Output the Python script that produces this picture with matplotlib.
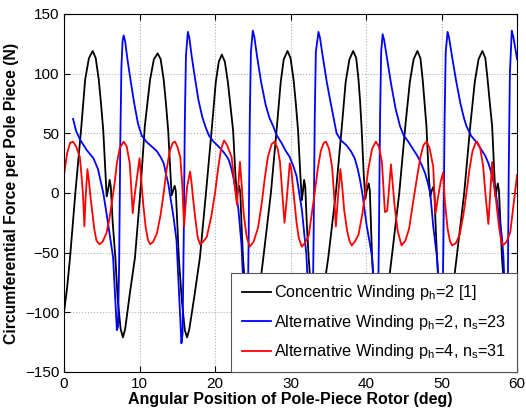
import matplotlib as mpl
import matplotlib.pyplot as plt

mpl.use('Agg')

plt.rcParams['font.family'] = ['Liberation Sans', 'DejaVu Sans']
plt.rcParams['mathtext.fontset'] = 'custom'
plt.rcParams['mathtext.rm'] = 'Liberation Sans'
plt.rcParams['mathtext.it'] = 'Liberation Sans'

# Concentric winding p_h=2 [1]  (angle in deg, force in N)
conc_x = [0.0, 0.4, 0.8, 1.5, 2.3, 2.8, 3.3, 3.8, 4.2, 4.6, 4.9, 5.2, 5.5, 5.65, 5.85, 6.05, 6.2, 6.45, 6.8,
          7.1, 7.5, 7.8, 8.1, 8.7, 9.4, 10.1, 10.7, 11.4, 11.9, 12.4, 12.8, 13.2, 13.5, 13.8, 14.1, 14.25,
          14.45, 14.65, 14.8, 15.0, 15.2, 15.6, 16.0, 16.3, 16.6, 17.3, 18.0, 18.8, 19.6, 20.1, 20.5, 20.9,
          21.3, 21.7, 22.1, 22.4, 22.7, 22.9, 23.05, 23.2, 23.35, 23.5, 23.7, 24.1, 24.5, 24.8, 25.1, 25.8,
          26.4, 27.4, 28.2, 28.7, 29.1, 29.6, 30.0, 30.4, 30.7, 31.0, 31.3, 31.5, 31.65, 31.8, 31.95, 32.15,
          32.4, 32.8, 33.1, 33.4, 33.7, 34.3, 35.0, 36.0, 36.8, 37.3, 37.8, 38.3, 38.7, 39.0, 39.2, 39.4,
          39.7, 39.9, 40.1, 40.35, 40.5, 40.65, 40.8, 41.2, 41.6, 41.9, 42.2, 42.8, 43.4, 44.4, 45.2, 45.8,
          46.3, 46.8, 47.2, 47.5, 47.75, 48.0, 48.3, 48.5, 48.7, 48.9, 49.05, 49.2, 49.4, 49.8, 50.2, 50.5,
          50.8, 51.4, 52.0, 53.0, 53.8, 54.4, 54.9, 55.4, 55.8, 56.1, 56.4, 56.7, 57.0, 57.15, 57.3, 57.45,
          57.6, 57.8, 58.0, 58.4, 58.7, 59.0, 59.3, 60.0]
conc_y = [-100, -80, -54, 0, 56, 95, 113, 119, 113, 95, 75, 52, 15, -3, 3, 11, 5, -25, -54,
          -88, -114, -121, -114, -85, -54, 0, 56, 95, 112, 117, 112, 95, 75, 52, 15, -2,
          2, 6, 2, -25, -54, -90, -115, -121, -114, -85, -54, 0, 56, 93, 110, 116,
          110, 93, 70, 52, 15, -2, 3, 6, 0, -25, -54, -90, -115, -121, -114, -85,
          -54, 0, 56, 93, 112, 119, 113, 95, 75, 52, 15, -6, 2, 11, 5, -25,
          -54, -90, -114, -121, -114, -85, -54, 0, 56, 93, 112, 119, 113, 95, 78, 56,
          15, -5, 2, 8, 2, -25, -54, -90, -115, -121, -114, -85, -54, 0, 56, 93,
          112, 119, 113, 95, 75, 56, 15, -3, 2, 5, 0, -25, -54, -90, -115, -121,
          -114, -85, -54, 0, 56, 93, 112, 119, 113, 95, 75, 56, 15, -3, 3, 8,
          2, -25, -54, -90, -114, -121, -115, -100]

# Alternative winding p_h=2, n_s=23
alt2_x = [1.2, 1.6, 2.1, 3.0, 3.9, 4.5, 4.85, 5.2, 5.7, 6.1, 6.5, 6.8, 7.0, 7.15, 7.3, 7.45, 7.6, 7.75,
          7.9, 8.1, 8.4, 8.8, 9.3, 9.8, 10.3, 10.9, 11.6, 12.3, 12.8, 13.2, 13.5, 13.8, 14.2, 14.5, 14.9,
          15.2, 15.55, 15.7, 15.85, 16.0, 16.15, 16.4, 16.6, 16.9, 17.3, 17.8, 18.3, 18.7, 19.2, 19.8, 20.3,
          20.9, 21.4, 21.8, 22.1, 22.4, 22.8, 23.1, 23.5, 23.8, 24.1, 24.3, 24.45, 24.6, 24.75, 25.0, 25.2,
          25.6, 26.1, 26.7, 27.2, 27.7, 28.2, 28.8, 29.3, 29.9, 30.4, 30.8, 31.15, 31.5, 32.1, 32.4, 32.7,
          32.9, 33.05, 33.2, 33.35, 33.7, 33.9, 34.3, 34.8, 35.3, 35.7, 36.1, 36.7, 37.4, 38.0, 38.5, 38.9,
          39.2, 39.5, 40.1, 40.5, 40.8, 41.1, 41.35, 41.55, 41.7, 41.85, 42.0, 42.2, 42.4, 42.8, 43.3, 43.9,
          44.5, 45.0, 45.6, 46.2, 46.9, 47.4, 47.8, 48.2, 48.5, 48.9, 49.4, 49.7, 49.95, 50.1, 50.25, 50.4,
          50.55, 50.8, 51.0, 51.4, 51.9, 52.5, 53.0, 53.3, 53.9, 54.7, 55.3, 55.8, 56.2, 56.6, 57.0, 57.3,
          58.0, 58.2, 58.45, 58.6, 58.75, 58.9, 59.05, 59.3, 59.5, 59.8, 60.0]
alt2_y = [62, 52, 45, 36, 29, 20, 10, 0, -20, -37, -54, -90, -115, -112, -60, 40, 105, 127,
          132, 127, 112, 95, 75, 58, 48, 43, 39, 35, 30, 25, 16, 8, -8, -20, -40,
          -80, -126, -118, -40, 60, 115, 135, 130, 115, 98, 78, 64, 56, 48, 43, 40,
          36, 32, 28, 22, 14, 0, -14, -43, -85, -122, -115, -40, 60, 118, 136, 131,
          113, 93, 74, 63, 56, 48, 42, 36, 30, 22, 14, 0, -14, -52, -90, -122,
          -115, -40, 60, 118, 135, 130, 113, 93, 76, 63, 50, 44, 40, 35, 29, 20,
          11, 0, -28, -42, -54, -90, -120, -112, -40, 60, 118, 133, 128, 112, 92, 71,
          56, 48, 43, 37, 30, 23, 17, 8, 0, -28, -54, -90, -122, -112, -40, 60,
          118, 135, 130, 114, 95, 75, 62, 56, 48, 42, 36, 31, 25, 17, 6, -5,
          -37, -54, -95, -120, -100, 20, 100, 136, 131, 120, 112]

# Alternative winding p_h=4, n_s=31
alt4_x = [0.0, 0.4, 0.8, 1.2, 1.6, 2.1, 2.35, 2.5, 2.7, 2.85, 2.95, 3.1, 3.3, 3.5, 3.7, 4.0, 4.3, 4.7,
          5.1, 5.6, 6.0, 6.3, 6.7, 7.0, 7.4, 7.9, 8.3, 8.7, 8.9, 9.1, 9.3, 9.6, 10.0, 10.25, 10.5, 10.8,
          11.1, 11.4, 11.8, 12.3, 12.8, 13.2, 13.6, 14.0, 14.4, 14.7, 15.0, 15.4, 15.65, 15.9, 16.1, 16.3,
          16.7, 16.9, 17.1, 17.4, 17.7, 18.0, 18.4, 18.9, 19.5, 20.0, 20.4, 20.8, 21.2, 21.6, 22.2, 22.5,
          22.9, 23.1, 23.3, 23.55, 23.8, 24.2, 24.6, 25.1, 25.7, 26.2, 26.6, 27.0, 27.5, 27.9, 28.3, 28.6,
          28.9, 29.2, 29.5, 29.9, 30.1, 30.4, 30.8, 31.1, 31.5, 31.9, 32.4, 32.8, 33.2, 33.6, 34.0, 34.4,
          34.7, 35.1, 35.5, 35.75, 36.0, 36.3, 36.6, 36.85, 37.1, 37.5, 37.8, 38.1, 38.5, 39.0, 39.5, 39.9,
          40.3, 40.8, 41.3, 41.7, 42.1, 42.3, 42.5, 42.8, 43.0, 43.3, 43.5, 43.8, 44.2, 44.7, 45.2, 45.7,
          46.3, 46.8, 47.2, 47.6, 48.0, 48.4, 48.9, 49.05, 49.2, 49.5, 49.9, 50.2, 50.45, 50.8, 51.1, 51.4,
          51.9, 52.4, 52.9, 53.3, 53.7, 54.1, 54.5, 54.7, 55.1, 55.5, 55.8, 56.2, 56.45, 56.7, 56.95, 57.2,
          57.6, 57.9, 58.1, 58.6, 59.1, 59.5, 60.0]
alt4_y = [15, 33, 42, 43, 39, 30, 12, 0, -28, -5, 5, 20, 10, -3, -14, -30, -40, -43,
          -41, -34, -22, -9, 8, 25, 38, 43, 39, 25, 5, -17, -5, 10, 29, 10, -10, -28,
          -39, -43, -41, -34, -18, 0, 20, 35, 42, 43, 39, 30, 8, -28, -10, 5,
          18, 8, -5, -22, -37, -43, -41, -37, -20, 0, 20, 37, 44, 40, 30, 12,
          -10, 8, 26, 5, -18, -37, -45, -41, -29, -8, 13, 30, 41, 43, 37, 26,
          0, -25, -5, 25, 20, 0, -25, -38, -45, -42, -36, -18, 0, 20, 35, 42,
          43, 37, 22, 0, -28, -2, 20, 5, -14, -32, -40, -44, -41, -35, -18, 0,
          20, 37, 43, 39, 26, 5, -16, -15, 0, 24, 10, -12, -32, -44, -40, -30,
          -5, 15, 30, 40, 43, 38, 22, 0, -17, -5, 10, 17, -8, -30, -40, -44,
          -42, -35, -18, 0, 20, 35, 42, 43, 38, 23, 0, -26, 0, 26, 5, -5,
          -28, -40, -44, -41, -33, -12, 15]

fig = plt.figure(figsize=(5.26, 4.11), dpi=100)
ax = fig.add_axes([0.1217, 0.095, 0.8613, 0.871])

ax.plot(conc_x, conc_y, color='k', lw=1.3, label='Concentric Winding p$_\\mathrm{h}$=2 [1]')
ax.plot(alt2_x, alt2_y, color='#0000ff', lw=1.3,
        label='Alternative Winding p$_\\mathrm{h}$=2, n$_\\mathrm{s}$=23')
ax.plot(alt4_x, alt4_y, color='#ff0000', lw=1.3,
        label='Alternative Winding p$_\\mathrm{h}$=4, n$_\\mathrm{s}$=31')

ax.set_xlim(0, 60)
ax.set_ylim(-150, 150)
ax.set_xticks(range(0, 61, 10))
ax.set_yticks(range(-150, 151, 50))
ax.tick_params(direction='in', top=True, right=True, labelsize=11, length=4)
ax.grid(True, linestyle=':', color='#b0b0b0', lw=0.8)
for s in ax.spines.values():
    s.set_linewidth(0.8)

ax.set_xlabel('Angular Position of Pole-Piece Rotor (deg)', fontsize=11.5, fontweight='bold', labelpad=1)
ax.set_ylabel('Circumferential Force per Pole Piece (N)', fontsize=11.3, fontweight='bold', labelpad=4)

leg = ax.legend(loc='lower right', fontsize=11.7, fancybox=False, framealpha=1, edgecolor='#555555',
                borderaxespad=0, handlelength=1.8, handletextpad=0.2, borderpad=0.65, labelspacing=0.65)
leg.get_frame().set_linewidth(0.8)

plt.savefig('out.png', dpi=100)
plt.close()
